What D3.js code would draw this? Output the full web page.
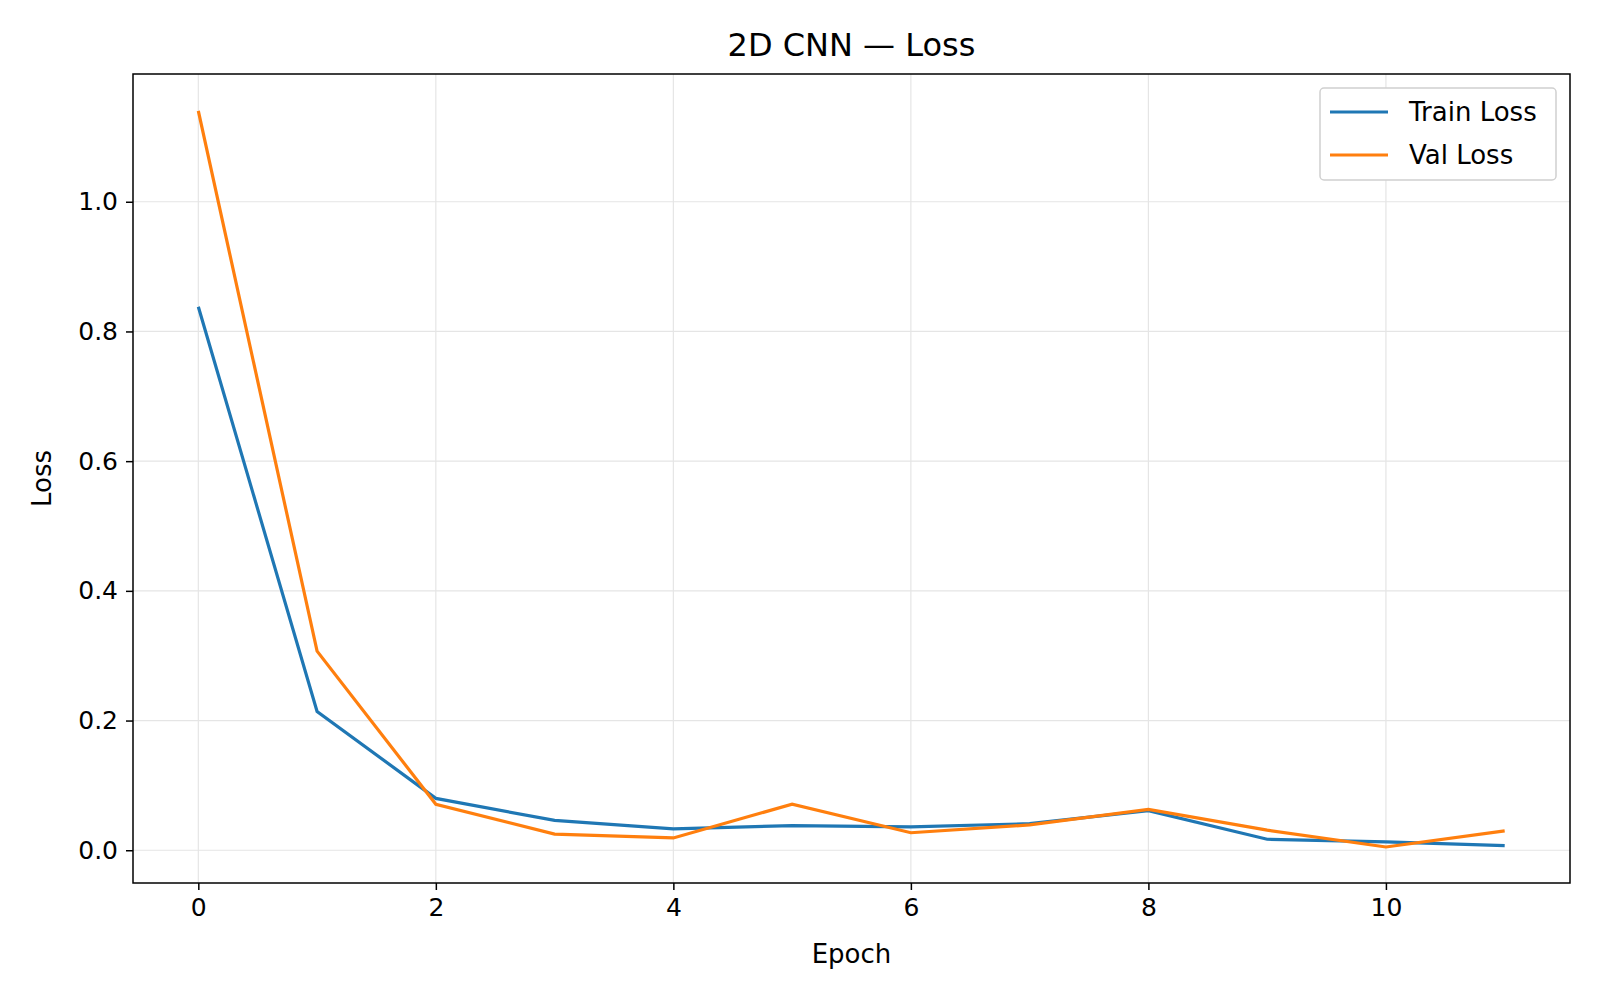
<!DOCTYPE html>
<html>
<script src="https://cdn.jsdelivr.net/npm/d3@7"></script>
<style>
body { margin: 0; background: #fff; }
text { font-family: "DejaVu Sans", sans-serif; fill: #000; }
</style>
<body>
<div id="plot"></div>
<script>
const epochs = [0, 1, 2, 3, 4, 5, 6, 7, 8, 9, 10, 11];
const trainLoss = [0.838, 0.214, 0.080, 0.046, 0.033, 0.038, 0.036, 0.041, 0.061, 0.017, 0.013, 0.007];
const valLoss = [1.140, 0.307, 0.071, 0.025, 0.019, 0.071, 0.027, 0.039, 0.063, 0.031, 0.005, 0.030];
const xTicks = [0, 2, 4, 6, 8, 10];
const yTicks = [0.0, 0.2, 0.4, 0.6, 0.8, 1.0];

let margin = {top: 74, right: 30, bottom: 117, left: 133},
  width = 1600 - margin.left - margin.right,
  height = 1000 - margin.top - margin.bottom;

let svg = d3.select("#plot").append("svg")
  .attr("width", 1600).attr("height", 1000)
  .append("g")
  .attr("transform", "translate(" + margin.left + "," + margin.top + ")");

let x = d3.scaleLinear().domain([-0.55, 11.55]).range([0, width]);
let y = d3.scaleLinear().domain([-0.0505, 1.197]).range([height, 0]);

// grid
svg.append("g").selectAll("line").data(xTicks).enter().append("line")
  .attr("x1", d => x(d)).attr("x2", d => x(d)).attr("y1", 0).attr("y2", height)
  .attr("stroke", "#e5e5e5").attr("stroke-width", 1.2);
svg.append("g").selectAll("line").data(yTicks).enter().append("line")
  .attr("y1", d => y(d)).attr("y2", d => y(d)).attr("x1", 0).attr("x2", width)
  .attr("stroke", "#e5e5e5").attr("stroke-width", 1.2);

let xa = svg.append("g").attr("transform", "translate(0," + height + ")")
  .call(d3.axisBottom(x).tickValues(xTicks).tickFormat(d3.format("d")).tickSize(7).tickPadding(8));
let ya = svg.append("g")
  .call(d3.axisLeft(y).tickValues(yTicks).tickFormat(d3.format(".1f")).tickSize(7).tickPadding(8));
[xa, ya].forEach(a => {
  a.selectAll("text").style("font-size", "25px").style("font-family", "DejaVu Sans");
  a.selectAll("line").attr("stroke-width", 1.5);
  a.select(".domain").remove();
});

svg.append("rect").attr("width", width).attr("height", height)
  .attr("fill", "none").attr("stroke", "#000").attr("stroke-width", 1.5);

let line = d3.line().x((d, i) => x(epochs[i])).y(d => y(d));
svg.append("path").datum(trainLoss).attr("d", line)
  .attr("fill", "none").attr("stroke", "#1f77b4").attr("stroke-width", 3.2);
svg.append("path").datum(valLoss).attr("d", line)
  .attr("fill", "none").attr("stroke", "#ff7f0e").attr("stroke-width", 3.2);

svg.append("text").attr("x", width / 2).attr("y", -18).attr("text-anchor", "middle")
  .style("font-size", "32px").text("2D CNN — Loss");
svg.append("text").attr("x", width / 2).attr("y", height + 80).attr("text-anchor", "middle")
  .style("font-size", "26px").text("Epoch");
svg.append("text").attr("transform", "rotate(-90)").attr("x", -height / 2).attr("y", -82)
  .attr("text-anchor", "middle").style("font-size", "26px").text("Loss");

// legend
let lg = svg.append("g").attr("transform", "translate(" + (width - 250) + ",14)");
lg.append("rect").attr("width", 236).attr("height", 92).attr("rx", 4)
  .attr("fill", "#fff").attr("stroke", "#d0d0d0").attr("stroke-width", 1.5);
[["Train Loss", "#1f77b4"], ["Val Loss", "#ff7f0e"]].forEach((s, i) => {
  lg.append("line").attr("x1", 10).attr("x2", 68).attr("y1", 24 + i * 43).attr("y2", 24 + i * 43)
    .attr("stroke", s[1]).attr("stroke-width", 3.2);
  lg.append("text").attr("x", 89).attr("y", 33 + i * 43).style("font-size", "26px").text(s[0]);
});
</script>
</body>
</html>
